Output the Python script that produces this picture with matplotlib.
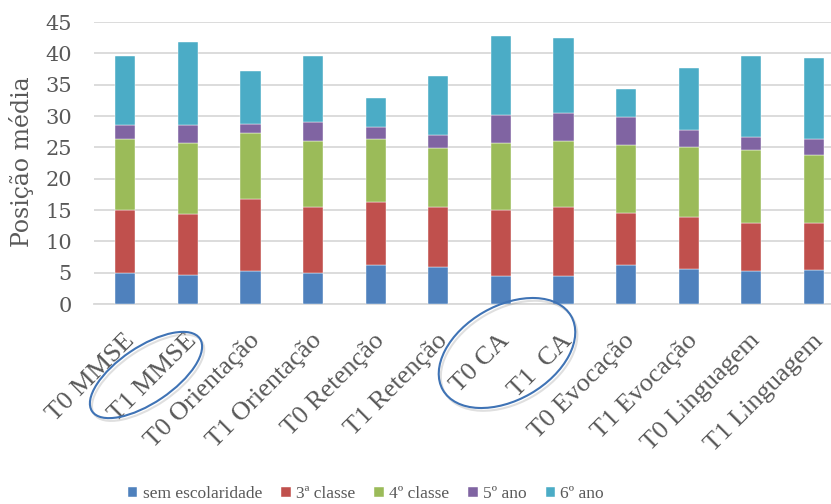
import numpy as np
import matplotlib
matplotlib.use('Agg')
import matplotlib.pyplot as plt
from matplotlib.patches import Ellipse
from matplotlib.transforms import ScaledTranslation, IdentityTransform
import matplotlib.patheffects as pe

plt.rcParams['font.family'] = ['DejaVu Serif']

categories = ['T0 MMSE', 'T1 MMSE', 'T0 Orientação', 'T1 Orientação',
              'T0 Retenção', 'T1 Retenção', 'T0 CA', 'T1  CA',
              'T0 Evocação', 'T1 Evocação', 'T0 Linguagem', 'T1 Linguagem']

series_names = ['sem escolaridade', '3ª classe', '4º classe', '5º ano', '6º ano']

sem_escolaridade = [5.0, 4.7, 5.2, 5.0, 6.3, 5.9, 4.5, 4.5, 6.2, 5.6, 5.3, 5.5]
classe_3 = [10.0, 9.7, 11.5, 10.5, 10.0, 9.5, 10.5, 11.0, 8.3, 8.3, 7.7, 7.5]
classe_4 = [11.4, 11.3, 10.6, 10.5, 10.0, 9.5, 10.7, 10.5, 10.9, 11.2, 11.6, 10.8]
ano_5 = [2.1, 2.9, 1.5, 3.1, 2.0, 2.0, 4.5, 4.5, 4.4, 2.6, 2.1, 2.6]
ano_6 = [11.0, 13.2, 8.4, 10.5, 4.5, 9.5, 12.6, 11.9, 4.5, 10.0, 12.9, 12.9]

colors = ['#4F81BD', '#C0504D', '#9BBB59', '#8064A2', '#4BACC6']
grey = '#595959'
label_font = 'Liberation Serif'

W, H = 831, 504
fig = plt.figure(figsize=(W / 100, H / 100), dpi=100)
ax = fig.add_axes([94 / W, 200 / H, (W - 94) / W, 282 / H])

x = np.arange(len(categories))
bottom = np.zeros(len(categories))
for name, vals, c in zip(series_names,
                         [sem_escolaridade, classe_3, classe_4, ano_5, ano_6],
                         colors):
    vals = np.array(vals)
    ax.bar(x, vals, width=0.32, bottom=bottom, color=c, label=name,
           edgecolor='white', linewidth=0.3, zorder=3)
    bottom += vals

ax.set_ylim(0, 45)
ax.set_xlim(-0.5, -0.5 + (W - 94) / 62.6)
ax.set_yticks(np.arange(0, 46, 5))
ax.yaxis.grid(True, color='#D9D9D9', linewidth=1.3, zorder=0)
ax.set_axisbelow(True)
for s in ['top', 'right', 'left']:
    ax.spines[s].set_visible(False)
ax.spines['bottom'].set_color('#D9D9D9')
ax.spines['bottom'].set_linewidth(1.3)
ax.tick_params(axis='y', length=0, pad=16, labelsize=15, labelcolor=grey)
ax.set_xticks([])

# rotated category labels below the axis
off = ScaledTranslation(4 / 72, -24 / 72, fig.dpi_scale_trans)
for i, lab in enumerate(categories):
    ax.text(i, 0, lab, transform=ax.transData + off, rotation=45,
            rotation_mode='anchor', ha='right', va='center',
            fontsize=19, family=label_font, color=grey)

fig.text(22 / W, 1 - 162 / H, 'Posição média', rotation=90, ha='center',
         va='center', fontsize=17, color=grey)

# highlight rings
shadow = [pe.SimpleLineShadow(offset=(1.5, -2), alpha=0.25, shadow_color='grey'),
          pe.Normal()]
for cx, cy, w, h, ang in [(146, 129, 130, 56, 34), (507, 151, 148, 94, 30)]:
    e = Ellipse((cx, cy), w, h, angle=ang, fill=False, edgecolor='#3F73B5',
                linewidth=1.5, transform=IdentityTransform(), zorder=5)
    e.set_path_effects(shadow)
    fig.add_artist(e)

fig.legend(loc='center', bbox_to_anchor=(366 / W, 1 - 494 / H), ncol=5,
           frameon=False, handlelength=0.55, handleheight=0.55,
           handletextpad=0.3, columnspacing=1.1,
           prop={'family': label_font, 'size': 12.5}, labelcolor=grey)

fig.savefig('out.png', dpi=100)
